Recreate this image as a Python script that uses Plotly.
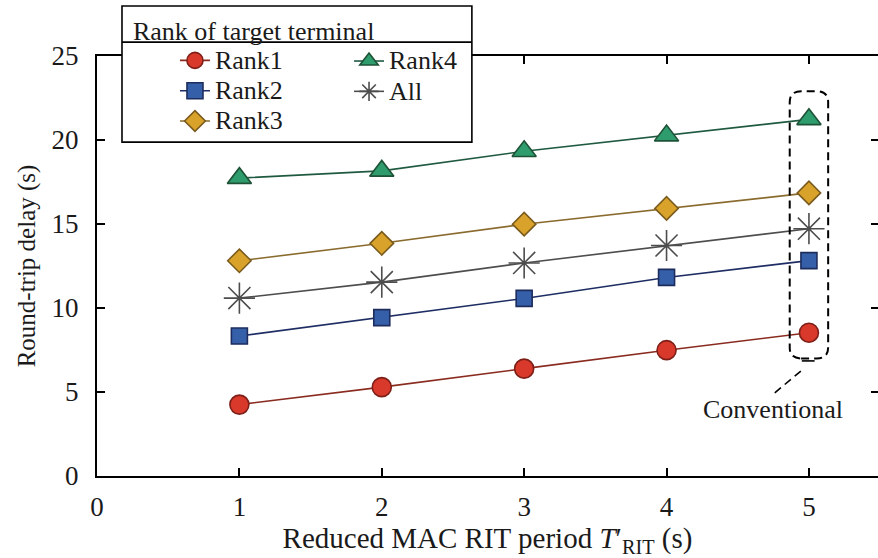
import plotly.graph_objects as go

# ---- data ----
periods = [1, 2, 3, 4, 5]
rank1 = [4.25, 5.29, 6.39, 7.49, 8.53]
rank2 = [8.33, 9.43, 10.57, 11.82, 12.82]
rank3 = [12.81, 13.85, 14.99, 15.93, 16.85]
rank4 = [17.73, 18.16, 19.33, 20.26, 21.23]
all_ranks = [10.59, 11.54, 12.68, 13.72, 14.72]
y_ticks = [0, 5, 10, 15, 20, 25]
x_ticks = [0, 1, 2, 3, 4, 5]

FONT = "Liberation Serif"
TXT = "#1a1a1a"

def f(size):
    return dict(family=FONT, size=size, color=TXT)

def big(name):
    return f'<span style="font-family:Liberation Serif;font-size:26px">{name}</span>'

fig = go.Figure()

def add(name, y, fill, edge, line, symbol, size, legend, lw=1.6):
    fig.add_trace(go.Scatter(
        x=periods, y=y, name=big(name), mode="lines+markers", legend=legend,
        line=dict(color=line, width=lw),
        marker=dict(symbol=symbol, size=size, color=fill,
                    line=dict(color=edge, width=1.6)),
        hovertemplate=name + ": %{y}<extra></extra>",
    ))

add("Rank1", rank1, "#d9392a", "#7d1f18", "#8a2b20", "circle", 19, "legend")
add("Rank2", rank2, "#3560a9", "#1d2c5c", "#1e2d63", "square", 16, "legend")
add("Rank3", rank3, "#d9a32b", "#7a5b1e", "#8a6b2e", "diamond", 18, "legend")
add("Rank4", rank4, "#2e9c6d", "#1e5237", "#1f5a40", "triangle-up", 21, "legend2")
add("All", all_ranks, "#4d4d4d", "#4d4d4d", "#4d4d4d", "asterisk-open", 26, "legend2")

# invisible trace to anchor the right-hand tick axis
fig.add_trace(go.Scatter(x=periods, y=rank4, yaxis="y2", mode="markers",
                         marker=dict(opacity=0), showlegend=False, hoverinfo="skip"))

# dashed rounded box around conventional (x=5) points
x0, x1, y0, y1 = 4.865, 5.135, 7.0, 22.9
rx, ry = 0.08, 0.65
path = (f"M {x0+rx},{y0} L {x1-rx},{y0} Q {x1},{y0} {x1},{y0+ry} "
        f"L {x1},{y1-ry} Q {x1},{y1} {x1-rx},{y1} L {x0+rx},{y1} "
        f"Q {x0},{y1} {x0},{y1-ry} L {x0},{y0+ry} Q {x0},{y0} {x0+rx},{y0} Z")
fig.add_shape(type="path", path=path, xref="x", yref="y",
              line=dict(color="black", width=2, dash="8px,5px"))
fig.add_shape(type="line", x0=4.76, y0=4.95, x1=4.97, y1=6.44, xref="x", yref="y",
              line=dict(color="black", width=1.6, dash="8px,5px"))
fig.add_shape(type="line", x0=4.95, y0=6.85, x1=5.04, y1=6.85, xref="x", yref="y",
              line=dict(color="black", width=1.6))
fig.add_annotation(x=4.75, y=3.93, xref="x", yref="y", text="Conventional",
                   showarrow=False, font=f(26))

# legend frame
fig.add_shape(type="rect", xref="paper", yref="paper", x0=0.032, x1=0.48,
              y0=0.795, y1=1.119, fillcolor="white",
              line=dict(color="black", width=1.6), layer="above")
fig.add_shape(type="line", xref="paper", yref="paper", x0=0.032, x1=0.48,
              y0=1.033, y1=1.033, line=dict(color="black", width=1.6), layer="above")

fig.update_layout(
    width=878, height=558,
    margin=dict(l=97, r=0, t=56, b=82),
    paper_bgcolor="white", plot_bgcolor="white",
    font=f(26),
    showlegend=True,
    legend=dict(x=0.0435, y=1.118, xanchor="left", yanchor="top",
                bgcolor="rgba(0,0,0,0)", borderwidth=0, indentation=44,
                title=dict(text="Rank of target terminal", font=f(26)),
                font=f(21), tracegroupgap=0),
    legend2=dict(x=0.3227, y=1.036, xanchor="left", yanchor="top",
                 bgcolor="rgba(0,0,0,0)", borderwidth=0,
                 font=f(21)),
    xaxis=dict(range=[0, 5.485], tickvals=x_ticks, ticks="inside", ticklen=8,
               tickwidth=1.6, tickcolor="black", showline=True, linecolor="black",
               linewidth=2, mirror="ticks", showgrid=False, zeroline=False,
               ticklabelstandoff=6,
               title=dict(text="Reduced MAC RIT period <i>T</i>′<sub>RIT</sub> (s)",
                          standoff=8, font=f(29)),
               tickfont=f(27)),
    yaxis=dict(range=[0, 25], tickvals=y_ticks, ticks="inside", ticklen=8,
               tickwidth=1.6, tickcolor="black", showline=True, linecolor="black",
               linewidth=2, showgrid=False, zeroline=False,
               ticklabelstandoff=11,
               title=dict(text="Round-trip delay (s)", standoff=9, font=f(25)),
               tickfont=f(27)),
    yaxis2=dict(range=[0, 25], tickvals=y_ticks, ticks="inside", ticklen=7,
                tickwidth=1.6, tickcolor="black", showline=False,
                showticklabels=False, showgrid=False, zeroline=False,
                overlaying="y", side="right"),
)

fig.write_html("out.html")
